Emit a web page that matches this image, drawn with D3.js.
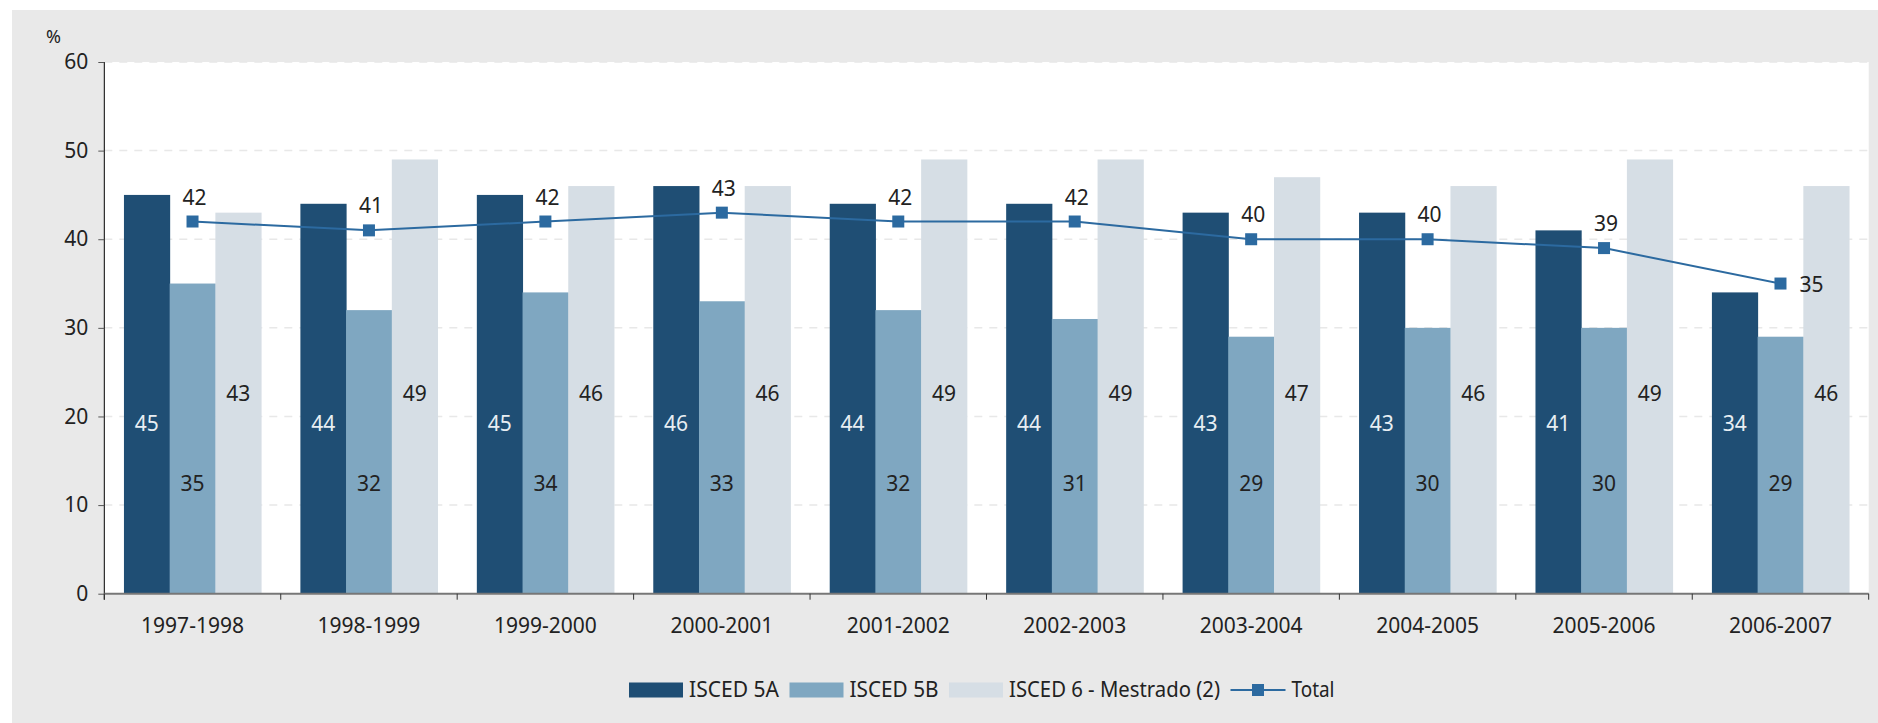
<!DOCTYPE html>
<meta charset="utf-8">
<script src="https://d3js.org/d3.v7.min.js"></script>
<style>
  body { margin: 0; background: #fff; }
  text { font-family: "Noto Sans", "Liberation Sans", sans-serif; fill: #222; }
</style>
<body>
<svg id="vis" width="1878" height="723"></svg>
<script>
// data
var years = ["1997-1998", "1998-1999", "1999-2000", "2000-2001", "2001-2002",
             "2002-2003", "2003-2004", "2004-2005", "2005-2006", "2006-2007"];
var isced5A = [45, 44, 45, 46, 44, 44, 43, 43, 41, 34];
var isced5B = [35, 32, 34, 33, 32, 31, 29, 30, 30, 29];
var isced6  = [43, 49, 46, 46, 49, 49, 47, 46, 49, 46];
var total   = [42, 41, 42, 43, 42, 42, 40, 40, 39, 35];
var yTicks  = [0, 10, 20, 30, 40, 50, 60];

var series = [
  {name: "ISCED 5A", values: isced5A, color: "#1f4e74", label: "#e8eef3", labelAt: 19.2, legendW: 90},
  {name: "ISCED 5B", values: isced5B, color: "#7fa7c1", label: "#222", labelAt: 12.4, legendW: 89},
  {name: "ISCED 6 - Mestrado (2)", values: isced6, color: "#d6dee5", label: "#222", labelAt: 22.6, legendW: 211}
];
var lineColor = "#2c6aa0";

var pLeft = 104.3, pRight = 1868.7, pTop = 62, pBottom = 593.7;
var svg = d3.select("#vis");

// backgrounds
svg.append("rect").attr("x", 12).attr("y", 10).attr("width", 1866).attr("height", 713).attr("fill", "#e9e9e9");
svg.append("rect").attr("x", pLeft).attr("y", pTop).attr("width", pRight - pLeft).attr("height", pBottom - pTop).attr("fill", "#fff");

var x0 = d3.scaleBand().domain(years).range([pLeft, pRight]).paddingInner(0).paddingOuter(0);
var x1 = d3.scaleBand().domain(series.map(function(s) { return s.name; }))
  .range([0, x0.bandwidth()]).paddingInner(0).paddingOuter(0.43);
var y = d3.scaleLinear().domain([0, 60]).range([pBottom, pTop]);

// grid
svg.append("g").selectAll("line")
  .data(yTicks.filter(function(d) { return d > 0; }))
  .join("line")
    .attr("x1", pLeft).attr("x2", pRight)
    .attr("y1", function(d) { return y(d); }).attr("y2", function(d) { return y(d); })
    .attr("stroke", "#e8e8e8").attr("stroke-width", 1.5).attr("stroke-dasharray", "8,7");

// bars
series.forEach(function(s) {
  var g = svg.append("g");
  g.selectAll("rect")
    .data(s.values)
    .join("rect")
      .attr("x", function(d, i) { return x0(years[i]) + x1(s.name); })
      .attr("y", function(d) { return y(d); })
      .attr("width", x1.bandwidth() + 0.5)
      .attr("height", function(d) { return y(0) - y(d); })
      .attr("fill", s.color);
});

// bar labels
series.forEach(function(s) {
  svg.append("g").selectAll("text")
    .data(s.values)
    .join("text")
      .attr("x", function(d, i) { return x0(years[i]) + x1(s.name) + x1.bandwidth() / 2; })
      .attr("y", y(s.labelAt))
      .attr("dy", "0.36em")
      .attr("text-anchor", "middle")
      .style("font-size", "21px")
      .style("fill", s.label)
      .text(function(d) { return d; });
});

// y axis
var yAxis = svg.append("g")
  .attr("transform", "translate(" + pLeft + ",0)")
  .call(d3.axisLeft(y).tickValues(yTicks).tickSize(6).tickPadding(10));
yAxis.select(".domain").attr("stroke", "#000").attr("d", "M0," + pTop + "V" + (pBottom + 6));
yAxis.selectAll(".tick line").attr("stroke", "#555");
yAxis.selectAll(".tick text").style("font-size", "21px").attr("fill", "#222")
  .style("font-family", "'Noto Sans', sans-serif");

svg.append("text").attr("x", 46).attr("y", 43).style("font-size", "18px").text("%");

// x axis
svg.append("line").attr("x1", pLeft).attr("x2", pRight).attr("y1", pBottom).attr("y2", pBottom)
  .attr("stroke", "#777").attr("stroke-width", 2);
svg.append("g").selectAll("line")
  .data(years.concat(["end"]))
  .join("line")
    .attr("x1", function(d) { return d == "end" ? pRight : x0(d); })
    .attr("x2", function(d) { return d == "end" ? pRight : x0(d); })
    .attr("y1", pBottom).attr("y2", pBottom + 6)
    .attr("stroke", "#333");
svg.append("g").selectAll("text")
  .data(years)
  .join("text")
    .attr("x", function(d) { return x0(d) + x0.bandwidth() / 2; })
    .attr("y", 633)
    .attr("text-anchor", "middle")
    .style("font-size", "21px")
    .text(function(d) { return d; });

// total line
var cx = function(i) { return x0(years[i]) + x1("ISCED 5B") + x1.bandwidth() / 2; };
svg.append("path")
  .datum(total)
  .attr("fill", "none").attr("stroke", lineColor).attr("stroke-width", 2)
  .attr("d", d3.line().x(function(d, i) { return cx(i); }).y(function(d) { return y(d); }));
svg.append("g").selectAll("rect")
  .data(total)
  .join("rect")
    .attr("x", function(d, i) { return cx(i) - 6; })
    .attr("y", function(d) { return y(d) - 6; })
    .attr("width", 12).attr("height", 12)
    .attr("fill", lineColor);
svg.append("g").selectAll("text")
  .data(total)
  .join("text")
    .attr("x", function(d, i) { return i == total.length - 1 ? cx(i) + 19 : cx(i) + 2; })
    .attr("y", function(d, i) { return i == total.length - 1 ? y(d) + 8 : y(d) - 17; })
    .attr("text-anchor", function(d, i) { return i == total.length - 1 ? "start" : "middle"; })
    .style("font-size", "21px")
    .text(function(d) { return d; });

// legend
var lx = 629, ly = 690;
var legend = svg.append("g");
series.forEach(function(s) {
  legend.append("rect").attr("x", lx).attr("y", ly - 7.5).attr("width", 54).attr("height", 15).attr("fill", s.color);
  legend.append("text").attr("x", lx + 60).attr("y", ly + 7)
    .style("font-size", "21px")
    .attr("textLength", s.legendW).attr("lengthAdjust", "spacingAndGlyphs")
    .text(s.name);
  lx += 60 + s.legendW + 10.5;
});
legend.append("line").attr("x1", lx).attr("x2", lx + 55).attr("y1", ly).attr("y2", ly)
  .attr("stroke", lineColor).attr("stroke-width", 2);
legend.append("rect").attr("x", lx + 21.5).attr("y", ly - 6).attr("width", 12).attr("height", 12).attr("fill", lineColor);
legend.append("text").attr("x", lx + 61).attr("y", ly + 7)
  .style("font-size", "21px")
  .attr("textLength", 43).attr("lengthAdjust", "spacingAndGlyphs")
  .text("Total");
</script>
</body>
